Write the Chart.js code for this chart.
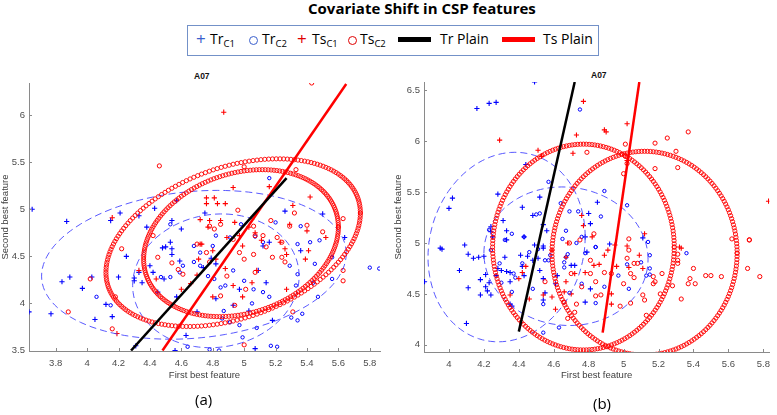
<!DOCTYPE html>
<html><head><meta charset="utf-8">
<script src="https://cdn.jsdelivr.net/npm/chart.js@4.4.1/dist/chart.umd.min.js"></script>
<style>
html,body{margin:0;padding:0;background:#fff;width:777px;height:415px;overflow:hidden;font-family:'Open Sans',sans-serif}
#wrap{position:relative;width:777px;height:415px}
.abs{position:absolute;white-space:nowrap;line-height:1}
.lg{font-family:'Open Sans',sans-serif;font-size:14px;color:#000;top:32px}
.lg sub{font-size:9.5px;vertical-align:-3px}
.pl{font-size:17px;top:30px}
.circ{position:absolute;width:7px;height:7px;border-radius:50%;top:36px}
.bar{position:absolute;height:5px;top:37px}
.at{font-family:'Liberation Sans',Arial,sans-serif;font-weight:bold;font-size:8.5px;color:#111}
.sub{font-family:'Open Sans',sans-serif;font-size:15px;color:#000}
</style></head><body>
<div id="wrap">
<div class="abs" style="left:308px;top:1px;font-weight:bold;font-size:15px;">Covariate Shift in CSP features</div>
<div class="abs" style="left:187px;top:25px;width:410px;height:29px;border:1px solid #7391c8;"></div>
<div class="abs lg pl" style="left:196px;color:#3a5fcd">+</div>
<div class="abs lg" style="left:210px">Tr<sub>C1</sub></div>
<div class="circ" style="left:249px;border:1.3px solid #3a5fcd"></div>
<div class="abs lg" style="left:262px">Tr<sub>C2</sub></div>
<div class="abs lg pl" style="left:297px;color:#e00000">+</div>
<div class="abs lg" style="left:312px">Ts<sub>C1</sub></div>
<div class="circ" style="left:348px;border:1.3px solid #e00000"></div>
<div class="abs lg" style="left:360px">Ts<sub>C2</sub></div>
<div class="bar" style="left:398px;width:33px;background:#000"></div>
<div class="abs lg" style="left:440px">Tr Plain</div>
<div class="bar" style="left:502px;width:33px;background:#ff0000"></div>
<div class="abs lg" style="left:543px">Ts Plain</div>
<div class="abs at" style="left:194px;top:72px">A07</div>
<div class="abs at" style="left:591px;top:71px">A07</div>
<div class="abs" style="left:0;top:60px;width:390px;height:330px"><canvas id="cA" width="390" height="330"></canvas></div>
<div class="abs" style="left:388px;top:60px;width:389px;height:330px"><canvas id="cB" width="389" height="330"></canvas></div>
<div class="abs sub" style="left:195px;top:392px">(a)</div>
<div class="abs sub" style="left:593px;top:396px">(b)</div>
</div>
<script>
// ---------- Panel (a) data ----------
const aXTicks = [3.8,4,4.2,4.4,4.6,4.8,5,5.2,5.4,5.6,5.8];
const aYTicks = [3.5,4,4.5,5,5.5,6];
const aTrC1 = [[3.65,5.0],[3.87,4.87],[4.15,4.88],[4.21,4.96],[4.33,4.93],[4.38,4.81],[4.43,5.01],[4.54,4.88],[4.60,4.79],[4.75,4.96],[5.26,4.98],[5.50,4.95],[5.64,4.7],[4.57,5.09],[4.48,4.59],[4.53,4.65],
[3.89,4.28],[3.84,4.23],[3.97,4.16],[4.03,4.28],[4.05,3.83],[3.77,3.89],[3.63,3.91],[4.12,3.99],[4.16,3.86],[4.2,4.28],[4.25,4.5],[4.30,4.27],[4.30,4.24],[4.33,4.33],[4.35,4.22],[4.40,4.40],[4.45,4.12],[4.50,4.6],[4.54,4.58],[4.54,4.52],[4.59,4.45],[4.57,4.07],[4.63,3.66],[4.56,3.50],[4.70,3.91],[4.74,4.38],[4.79,4.48],[4.82,4.42],[4.82,4.05],[4.97,4.15],[4.93,3.98],[5.03,3.92],[5.09,4.35],[5.14,4.22],[5.16,4.65],[5.12,4.61],[5.07,3.52],[5.36,4.56],[5.18,3.82],[4.31,3.55],[4.49,4.26],[4.42,4.33]];
const aTrC2 = [[5.16,5.33],[4.53,4.84],[4.98,4.84],[5.2,4.86],[5.07,4.71],[5.36,4.82],[5.42,4.65],[5.48,4.67],[4.68,4.61],[4.82,4.72],[4.91,4.70],[5.12,4.65],
[4.06,4.07],[4.15,3.98],[4.47,4.28],[4.53,4.28],[4.59,4.33],[4.61,4.40],[4.68,4.44],[4.72,4.40],[4.77,4.29],[4.81,4.26],[4.85,4.17],[4.87,3.92],[4.86,3.84],[4.93,4.35],[5.00,4.24],[5.06,4.15],[5.05,4.0],[5.12,4.12],[5.16,4.07],[4.97,3.77],[4.88,4.19],[4.91,3.80],[4.99,3.64],[5.08,3.74],[5.17,3.55],[5.21,3.54],[5.30,3.85],[5.34,4.63],[5.29,4.40],[5.33,4.19],[5.34,4.31],[5.37,3.89],[5.34,3.82],[5.45,4.42],[5.44,4.22],[5.56,4.26],[5.56,4.49],[5.80,4.38],[5.86,4.37],[5.47,4.07],[4.84,3.50],[4.78,3.51],[4.64,3.54],[4.80,4.61],[4.72,4.54]];
const aTsC1 = [[4.87,6.03],[4.76,5.12],[4.81,5.12],[4.76,5.06],[4.83,5.06],[4.88,5.06],[4.93,5.23],[5.16,5.24],[5.31,5.04],[5.42,5.13],[4.72,4.89],[4.77,4.81],[4.78,4.88],[4.85,4.88],[4.94,4.86],[5.03,4.81],[5.29,4.84],[5.40,4.77],[5.52,4.70],[4.16,4.91],[4.73,4.63],[4.89,4.70],[4.99,4.61],[5.07,4.75],[5.23,4.65],[4.97,4.72],
[4.33,4.35],[4.44,4.26],[4.60,4.15],[4.66,4.21],[4.71,4.47],[4.80,4.56],[4.72,4.63],[4.88,4.37],[4.93,4.19],[4.99,4.07],[5.05,4.22],[5.08,4.35],[5.11,4.67],[5.27,4.52],[5.26,4.58],[5.27,4.15],[5.41,4.56],[5.39,4.47],[4.19,3.68],[4.82,4.47],[4.70,4.30],[4.80,4.07]];
const aTsC2 = [[5.43,6.34],[4.46,5.46],[5.33,5.42],[5.0,5.45],[4.96,4.99],[5.17,4.88],[5.32,4.96],[5.40,4.83],[5.63,4.90],[5.50,4.76],[4.78,4.82],[4.85,4.84],[4.81,4.79],[4.42,4.72],[4.93,4.68],[5.07,4.72],[5.12,4.72],[5.21,4.70],[5.24,4.65],[5.29,4.82],[5.06,4.82],
[4.02,4.26],[3.88,3.91],[4.16,3.73],[4.18,4.07],[4.22,4.58],[4.45,4.49],[4.54,4.43],[4.58,4.36],[4.61,4.31],[4.76,4.54],[4.78,4.44],[4.85,4.08],[4.89,4.29],[4.94,3.98],[5.00,4.47],[5.06,4.52],[5.07,4.33],[5.01,4.15],[5.18,4.49],[5.24,4.49],[5.14,4.60],[5.26,4.44],[5.31,3.91],[5.63,4.24],[5.63,4.35],[5.00,3.56],[4.97,4.54],[4.70,4.63]];
// ellipse parameters: [centerX, centerY, halfWidthX, yShiftAtXExtreme, halfHeightY]
const aTrEllipses = [[4.68,4.41,0.97,0.12,0.79],[4.82,4.24,0.53,0.05,0.71]];
const aTsEllipses = [[4.93,4.645,0.81,0.315,0.89],[4.98,4.64,0.62,0.17,0.78]];
const aTrPlain = [[4.28,3.5],[5.27,5.33]];
const aTsPlain = [[4.48,3.5],[5.65,6.33]];

// ---------- Panel (b) data ----------
const bXTicks = [4,4.2,4.4,4.6,4.8,5,5.2,5.4,5.6,5.8];
const bYTicks = [4,4.5,5,5.5,6,6.5];
const bTrC1 = [[4.49,6.58],[4.23,6.37],[4.27,6.38],[4.16,6.32],[4.0,5.34],[4.02,5.44],[4.28,5.48],[4.44,5.77],[4.42,5.35],[4.48,5.27],[4.52,5.45],[4.54,5.18],[4.56,5.12],[4.31,5.22],[4.24,5.16],[4.24,5.11],[4.25,5.06],[4.33,5.12],[4.33,5.03],[4.43,5.06],[4.85,5.40],[4.80,5.29],[4.81,5.19],[4.54,4.97],[4.49,4.98],[4.09,4.98],[3.95,4.95],[5.11,5.05],[4.92,4.99],[4.78,5.06],[3.86,4.62],
[3.96,4.94],[4.11,4.89],[4.14,4.85],[4.17,4.86],[4.20,4.87],[4.06,4.73],[4.11,4.56],[4.18,4.49],[4.21,4.57],[4.22,4.53],[4.24,4.49],[4.21,4.69],[4.23,4.61],[4.27,4.68],[4.28,4.75],[4.30,4.73],[4.33,4.72],[4.35,4.71],[4.35,4.62],[4.35,4.40],[4.36,4.38],[4.41,4.88],[4.42,4.77],[4.43,4.68],[4.45,4.87],[4.48,4.83],[4.51,4.85],[4.52,4.73],[4.54,4.95],[4.54,4.65],[4.32,4.86],[4.10,4.21],[4.18,4.64],[4.79,4.91],[4.72,4.78],[4.70,4.78],[4.61,4.60],[4.62,4.68],[4.55,4.51],[4.81,4.55],[4.54,4.44],[4.78,4.42]];
const bTrC2 = [[4.75,6.31],[4.57,5.60],[4.64,5.39],[4.50,5.28],[4.52,5.29],[4.69,5.31],[4.74,5.31],[4.87,5.26],[4.89,5.51],[5.02,5.37],[4.23,5.13],[4.36,5.09],[4.43,5.06],[4.67,5.12],[4.65,5.04],[4.73,5.0],[4.76,5.06],[4.84,4.96],[5.14,5.01],[4.32,5.03],
[4.30,4.61],[4.36,4.52],[4.37,4.70],[4.38,4.66],[4.42,4.80],[4.46,4.91],[4.48,4.55],[4.51,4.94],[4.55,4.83],[4.57,4.83],[4.54,4.40],[4.54,4.12],[4.63,4.17],[4.66,4.81],[4.66,4.76],[4.67,4.86],[4.68,4.89],[4.69,4.51],[4.78,4.90],[4.76,4.60],[4.84,4.96],[4.84,4.41],[4.89,4.57],[4.97,4.68],[5.02,4.79],[5.03,4.55],[5.10,4.81],[5.13,4.68],[5.15,4.88],[5.15,4.75],[5.15,4.69],[5.36,4.90],[4.29,4.80],[4.24,4.93],[4.58,4.88]];
const bTsC1 = [[4.77,6.39],[4.73,6.06],[4.29,6.01],[4.51,5.91],[4.53,5.85],[4.71,5.88],[4.89,6.11],[4.90,6.09],[5.02,6.17],[5.02,5.81],[4.76,5.27],[4.82,5.06],[4.95,4.98],[5.02,4.97],[5.12,5.09],[5.83,5.41],[5.33,4.95],[4.77,5.17],[4.68,5.0],
[4.44,4.77],[4.42,4.71],[4.40,4.65],[4.35,4.49],[4.46,4.45],[4.54,4.49],[4.59,4.47],[4.61,4.35],[4.66,4.52],[4.67,4.62],[4.70,4.50],[4.72,4.70],[4.78,4.71],[4.83,4.78],[4.86,4.79],[4.89,4.88],[4.91,4.93],[4.93,4.50],[4.93,4.40],[4.96,4.77],[5.03,4.76],[5.09,4.88],[5.11,4.75],[5.32,4.96],[4.59,4.93],[4.67,4.86]];
const bTsC2 = [[5.37,6.09],[5.25,6.03],[5.18,5.98],[5.01,5.97],[4.79,5.89],[5.0,5.68],[5.30,5.90],[5.31,5.74],[5.01,5.85],[5.02,5.78],[5.18,5.73],[5.03,5.04],[5.62,5.04],[5.72,5.03],[4.75,5.03],[4.69,5.0],[4.83,5.09],
[4.55,4.62],[4.66,4.42],[4.68,4.26],[4.73,4.40],[4.72,4.32],[4.76,4.57],[4.81,4.70],[4.84,4.62],[4.84,4.48],[4.87,4.49],[4.93,4.70],[4.89,4.71],[5.00,4.60],[4.98,4.38],[5.04,4.41],[5.04,4.70],[5.06,4.66],[5.06,4.80],[5.03,4.93],[5.08,4.80],[5.11,4.49],[5.12,4.44],[5.13,4.29],[5.17,4.67],[5.17,4.60],[5.18,4.62],[5.21,4.50],[5.22,4.70],[5.28,4.58],[5.31,4.83],[5.31,4.80],[5.33,4.45],[5.37,4.60],[5.38,4.65],[5.40,4.75],[5.41,4.60],[5.47,4.68],[5.50,4.68],[5.56,4.67],[5.71,4.75],[5.78,4.67],[5.72,5.03],[5.31,4.89],[5.02,4.85],[4.81,4.83],[4.70,4.70]];
const bTrEllipses = [[4.33,4.96,0.45,0.10,0.93],[4.67,4.87,0.47,-0.03,0.68]];
const bTsEllipses = [[4.77,4.96,0.52,0.0,1.01],[5.12,4.90,0.53,0.0,1.0]];
const bTrPlain = [[4.40,4.13],[4.72,6.58]];
const bTsPlain = [[4.88,4.12],[5.09,6.58]];

// ---------- helpers ----------
const BLUE = '#0000ff', RED = '#ff0000';
const pts = arr => arr.map(p => ({x: p[0], y: p[1]}));
function ellipse(e, n) {
  const [cx, cy, wx, dy, hy] = e;
  const l22 = Math.sqrt(Math.max(hy*hy - dy*dy, 0));
  const out = [];
  for (let i = 0; i <= n; i++) {
    const t = 2*Math.PI*i/n;
    out.push({x: cx + wx*Math.cos(t), y: cy + dy*Math.cos(t) + l22*Math.sin(t)});
  }
  return out;
}
const inTicks = {
  id: 'inTicks',
  afterDatasetsDraw(chart) {
    const {ctx, chartArea: a, scales: {x, y}} = chart;
    ctx.save(); ctx.strokeStyle = '#8a8a8a'; ctx.lineWidth = 1; ctx.beginPath();
    x.ticks.forEach(t => { const p = Math.round(x.getPixelForValue(t.value)) + 0.5; ctx.moveTo(p, a.bottom); ctx.lineTo(p, a.bottom - 3); });
    y.ticks.forEach(t => { const p = Math.round(y.getPixelForValue(t.value)) + 0.5; ctx.moveTo(a.left, p); ctx.lineTo(a.left + 3, p); });
    ctx.stroke(); ctx.restore();
  }
};
function makeChart(id, d) {
  const datasets = [
    {data: pts(d.trPlain), showLine: true, borderColor: '#000', borderWidth: 2.5, pointRadius: 0},
    {data: pts(d.tsPlain), showLine: true, borderColor: RED, borderWidth: 2.5, pointRadius: 0},
  ];
  d.tsEll.forEach(e => datasets.push({data: ellipse(e, 200), pointStyle: 'circle', pointRadius: 2.1, borderWidth: 0.9, borderColor: RED, backgroundColor: 'rgba(0,0,0,0)'}));
  d.trEll.forEach(e => datasets.push({data: ellipse(e, 120), showLine: true, borderColor: '#4646ff', borderWidth: 0.9, borderDash: [7, 4], pointRadius: 0}));
  datasets.push({data: pts(d.tsC2), pointStyle: 'circle', pointRadius: 2.1, borderWidth: 1, borderColor: RED, backgroundColor: 'rgba(0,0,0,0)'});
  datasets.push({data: pts(d.tsC1), pointStyle: 'cross', pointRadius: 2.6, borderWidth: 1.1, borderColor: RED});
  datasets.push({data: pts(d.trC2), pointStyle: 'circle', pointRadius: 1.7, borderWidth: 1, borderColor: BLUE, backgroundColor: 'rgba(0,0,0,0)'});
  datasets.push({data: pts(d.trC1), pointStyle: 'cross', pointRadius: 2.6, borderWidth: 1.1, borderColor: BLUE});
  const tickFont = {family: "'Liberation Sans', Arial, sans-serif", size: 9.5};
  return new Chart(document.getElementById(id), {
    type: 'scatter',
    data: {datasets},
    options: {
      responsive: false, animation: false, devicePixelRatio: 1,
      layout: {padding: d.pad},
      plugins: {legend: {display: false}, tooltip: {enabled: false}, title: {display: false}},
      elements: {line: {tension: 0}},
      scales: {
        x: {
          type: 'linear', min: d.xr[0], max: d.xr[1],
          afterBuildTicks: s => { s.ticks = d.xTicks.map(v => ({value: v})); },
          afterFit: s => { s.height = d.xh; },
          grid: {display: false, drawTicks: false, tickLength: 0}, border: {display: true, color: '#8a8a8a', width: 1},
          ticks: {font: tickFont, color: '#4d4d4d', padding: 7, maxRotation: 0, autoSkip: false, callback: v => String(v)},
          title: {display: true, text: 'First best feature', color: '#404040', font: {family: "'Liberation Sans', Arial, sans-serif", size: 9.5}, padding: {top: 0, bottom: d.xtp}}
        },
        y: {
          type: 'linear', min: d.yr[0], max: d.yr[1],
          afterBuildTicks: s => { s.ticks = d.yTicks.map(v => ({value: v})); },
          afterFit: s => { s.width = d.yw; },
          grid: {display: false, drawTicks: false, tickLength: 0}, border: {display: true, color: '#8a8a8a', width: 1},
          ticks: {font: tickFont, color: '#4d4d4d', padding: 4, autoSkip: false, callback: v => String(v)},
          title: {display: true, text: 'Second best feature', color: '#404040', font: {family: "'Liberation Sans', Arial, sans-serif", size: 9.5}, padding: {top: d.ytp, bottom: 0}}
        }
      }
    },
    plugins: [inTicks]
  });
}
makeChart('cA', {trC1: aTrC1, trC2: aTrC2, tsC1: aTsC1, tsC2: aTsC2, trEll: aTrEllipses, tsEll: aTsEllipses, trPlain: aTrPlain, tsPlain: aTsPlain,
  xTicks: aXTicks, yTicks: aYTicks, xr: [3.63, 5.865], yr: [3.495, 6.34], pad: {left: 0, top: 23, right: 10, bottom: 0}, xh: 39, yw: 29, xtp: 9, ytp: 0});
makeChart('cB', {trC1: bTrC1, trC2: bTrC2, tsC1: bTsC1, tsC2: bTsC2, trEll: bTrEllipses, tsEll: bTsEllipses, trPlain: bTrPlain, tsPlain: bTsPlain,
  xTicks: bXTicks, yTicks: bYTicks, xr: [3.857, 5.835], yr: [3.93, 6.58], pad: {left: 0, top: 22, right: 2, bottom: 0}, xh: 38, yw: 36, xtp: 9, ytp: 5});
</script>
</body></html>
